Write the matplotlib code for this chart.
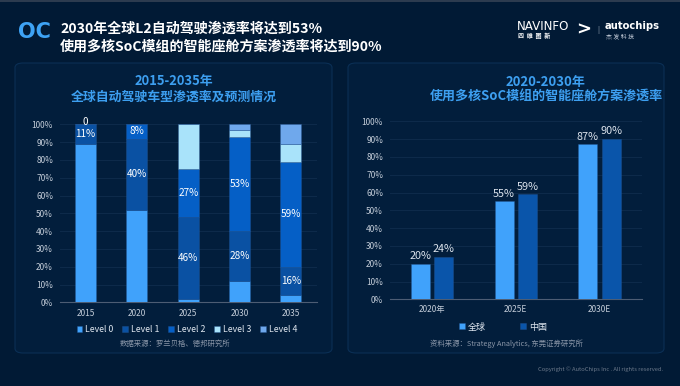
import matplotlib
matplotlib.use("Agg")
import matplotlib.pyplot as plt
from matplotlib.patches import FancyBboxPatch, Rectangle
import numpy as np

plt.rcParams['font.family'] = ['Noto Sans CJK SC', 'DejaVu Sans']

# ---------------- data ----------------
years = ["2015", "2020", "2025", "2030", "2035"]
level_names = ["Level 0", "Level 1", "Level 2", "Level 3", "Level 4"]
level0 = [89, 52, 2, 12, 4]
level1 = [11, 40, 46, 28, 16]
level2 = [0, 8, 27, 53, 59]
level3 = [0, 0, 25, 4, 10]
level4 = [0, 0, 0, 3, 11]
level1_labels = ["11%", "40%", "46%", "28%", "16%"]
level2_labels = ["0", "8%", "27%", "53%", "59%"]

cockpit_years = ["2020年", "2025E", "2030E"]
cockpit_global = [20, 55, 87]
cockpit_china = [24, 59, 90]
cockpit_series = ["全球", "中国"]

# ---------------- style ----------------
BG = "#011a35"
PANEL = "#021e3c"
PANEL_EDGE = "#0b2f55"
GRID = "#0d2a4a"
TICK = "#c3ccd8"
TITLE_BLUE = "#3d9ff0"
level_colors = ["#40a2fb", "#0a51a3", "#055fc6", "#a9e3fa", "#6fa8ec"]
c_global = "#40a2fb"
c_china = "#0a55aa"
EDGE = (0.15, 0.35, 0.6, 0.6)

W, H = 680, 386
fig = plt.figure(figsize=(W / 100, H / 100), dpi=100)
fig.patch.set_facecolor(BG)

def fx(x):
    return x / W

def fy(y):
    return 1 - y / H

# thin top strip
fig.patches.append(Rectangle((0, fy(2)), 1, 2 / H, transform=fig.transFigure,
                             facecolor="#2c3b4f", edgecolor="none", zorder=-10))

# panels
for (x0, x1) in [(15, 332), (348, 664)]:
    p = FancyBboxPatch((fx(x0), fy(353)), fx(x1 - x0), (353 - 63) / H,
                       boxstyle="round,pad=0,rounding_size=0.012",
                       transform=fig.transFigure, facecolor=PANEL,
                       edgecolor=PANEL_EDGE, linewidth=0.8, zorder=-10)
    fig.patches.append(p)

# header
fig.text(fx(18), fy(32), "OC", color="#3ea3f5", fontsize=15, fontweight="bold",
         va="center", ha="left", family="DejaVu Sans")
fig.text(fx(60), fy(29), "2030年全球L2自动驾驶渗透率将达到53%", color="white",
         fontsize=10.1, fontweight="bold", va="center", ha="left")
fig.text(fx(60), fy(46.5), "使用多核SoC模组的智能座舱方案渗透率将达到90%", color="white",
         fontsize=10.1, fontweight="bold", va="center", ha="left")
fig.text(fx(517), fy(26.5), "NAVINFO", color="white", fontsize=8.6, va="center",
         ha="left", family="DejaVu Sans")
fig.text(fx(518), fy(35.5), "四  维  图  新", color="white", fontsize=4.3, va="center",
         ha="left", fontweight="bold")
fig.text(fx(576), fy(30), ">", color="white", fontsize=13, va="center", ha="left",
         fontweight="bold", family="DejaVu Sans")
fig.text(fx(597), fy(30), "|", color="#9aa6b8", fontsize=5.5, va="center", ha="left")
fig.text(fx(605), fy(26), "autochips", color="white", fontsize=7.2, va="center",
         ha="left", fontweight="bold", family="DejaVu Sans")
fig.text(fx(606), fy(36), "杰 发 科 技", color="#c8d0dc", fontsize=4.3, va="center",
         ha="left")

# ---------------- left chart ----------------
axL = fig.add_axes([fx(60), fy(302.3), fx(256.5), 178 / H])
axL.set_facecolor("none")
x = np.arange(len(years))
series = [level0, level1, level2, level3, level4]
bottom = np.zeros(len(years))
bw = 0.41
for i, vals in enumerate(series):
    axL.bar(x, vals, bw, bottom=bottom, color=level_colors[i],
            edgecolor=EDGE, linewidth=0.4, zorder=3, label=level_names[i])
    if i == 1:
        for xi, b, v, t in zip(x, bottom, vals, level1_labels):
            axL.text(xi, b + v / 2, t, color="white", fontsize=7.2, ha="center",
                     va="center", zorder=4)
    if i == 2:
        for xi, b, v, t in zip(x, bottom, vals, level2_labels):
            yy = b + v / 2 + (1.2 if v == 0 else 0)
            axL.text(xi, yy, t, color="white", fontsize=7.2, ha="center",
                     va="center", zorder=4)
    bottom = bottom + np.array(vals)

axL.set_xlim(-0.5, len(years) - 0.5)
axL.set_ylim(0, 100)
axL.set_yticks(np.arange(0, 101, 10))
axL.set_yticklabels([f"{v}%" for v in range(0, 101, 10)])
axL.set_xticks(x)
axL.set_xticklabels(years)
axL.grid(axis="y", color=GRID, linewidth=0.8, zorder=0)
for s in ["top", "right", "left"]:
    axL.spines[s].set_visible(False)
axL.spines["bottom"].set_color("#4d5d74")
axL.spines["bottom"].set_linewidth(0.8)
axL.tick_params(axis="both", length=0, colors=TICK, labelsize=6)
axL.tick_params(axis="y", pad=5)
axL.tick_params(axis="x", pad=5)

axL.legend(loc="center", bbox_to_anchor=(fx(187), fy(329.5)),
           bbox_transform=fig.transFigure, ncol=5,
           frameon=False, fontsize=6.3, handlelength=0.65, handleheight=0.65,
           handletextpad=0.35, columnspacing=1.0, labelcolor="#dfe6ef",
           borderpad=0, borderaxespad=0)

fig.text(fx(174), fy(81), "2015-2035年", color=TITLE_BLUE, fontsize=9.3,
         fontweight="bold", ha="center", va="center")
fig.text(fx(174), fy(97), "全球自动驾驶车型渗透率及预测情况", color=TITLE_BLUE,
         fontsize=9.3, fontweight="bold", ha="center", va="center")
fig.text(fx(175), fy(344), "数据来源：罗兰贝格、德邦研究所", color="#8a96a8",
         fontsize=5.3, ha="center", va="center")

# ---------------- right chart ----------------
axR = fig.add_axes([fx(390), fy(299.3), fx(251.7), 178 / H])
axR.set_facecolor("none")
xr = np.arange(len(cockpit_years))
bw2 = 0.226
off = 0.141
axR.bar(xr - off, cockpit_global, bw2, color=c_global, edgecolor=EDGE,
        linewidth=0.4, zorder=3, label=cockpit_series[0])
axR.bar(xr + off, cockpit_china, bw2, color=c_china, edgecolor=EDGE,
        linewidth=0.4, zorder=3, label=cockpit_series[1])
for xi, v in zip(xr - off, cockpit_global):
    axR.text(xi, v + 1.5, f"{v}%", color="#dce3ec", fontsize=7.8, ha="center",
             va="bottom", zorder=4)
for xi, v in zip(xr + off, cockpit_china):
    axR.text(xi, v + 1.5, f"{v}%", color="#dce3ec", fontsize=7.8, ha="center",
             va="bottom", zorder=4)
axR.set_xlim(-0.5, len(cockpit_years) - 0.5)
axR.set_ylim(0, 100)
axR.set_yticks(np.arange(0, 101, 10))
axR.set_yticklabels([f"{v}%" for v in range(0, 101, 10)])
axR.set_xticks(xr)
axR.set_xticklabels(cockpit_years)
axR.grid(axis="y", color=GRID, linewidth=0.8, zorder=0)
for s in ["top", "right", "left"]:
    axR.spines[s].set_visible(False)
axR.spines["bottom"].set_color("#4d5d74")
axR.spines["bottom"].set_linewidth(0.8)
axR.tick_params(axis="both", length=0, colors=TICK, labelsize=6)
axR.tick_params(axis="y", pad=5)
axR.tick_params(axis="x", pad=4)
axR.legend(loc="center", bbox_to_anchor=(fx(503), fy(327)),
           bbox_transform=fig.transFigure, ncol=2,
           frameon=False, fontsize=6.5, handlelength=0.65, handleheight=0.65,
           handletextpad=0.35, columnspacing=3.75, labelcolor="#dfe6ef",
           borderpad=0, borderaxespad=0)

fig.text(fx(546), fy(82), "2020-2030年", color=TITLE_BLUE, fontsize=9.4,
         fontweight="bold", ha="center", va="center")
fig.text(fx(546), fy(97), "使用多核SoC模组的智能座舱方案渗透率", color=TITLE_BLUE,
         fontsize=9.4, fontweight="bold", ha="center", va="center")
fig.text(fx(506), fy(344), "资料来源：Strategy Analytics, 东莞证券研究所",
         color="#8a96a8", fontsize=5.3, ha="center", va="center")

fig.text(fx(663), fy(369), "Copyright © AutoChips Inc . All rights reserved.",
         color="#6b788a", fontsize=4.2, ha="right", va="center")

fig.savefig("out.png", dpi=100, facecolor=BG)
